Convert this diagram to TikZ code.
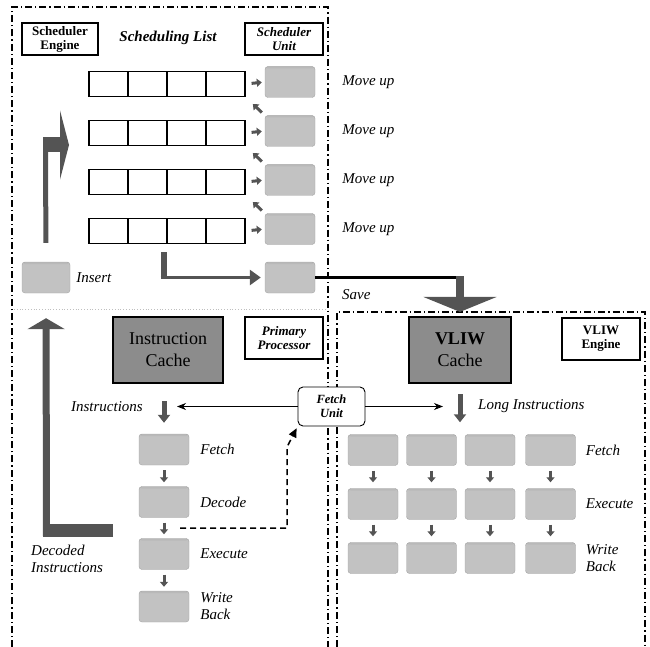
\documentclass[tikz,border=0pt]{standalone}
\usepackage{fontspec}
\setmainfont{Liberation Serif}
\usetikzlibrary{arrows.meta, positioning, calc}

\definecolor{slotgray}{gray}{0.76}
\definecolor{cachegray}{gray}{0.55}
\definecolor{arrowgray}{gray}{0.33}

\tikzstyle{region} = [
    line width=1.1pt,
    dash pattern=on 7pt off 3pt on 1.2pt off 3pt
]
\tikzstyle{tag} = [
    rectangle,
    draw=black,
    line width=1.3pt,
    align=center,
    inner sep=1pt,
    font=\fontsize{13}{14}\selectfont\bfseries
]
\tikzstyle{cell} = [
    rectangle,
    draw=black,
    line width=1.2pt,
    minimum width=39pt,
    minimum height=25pt,
    inner sep=0pt
]
\tikzstyle{slot} = [
    rectangle,
    rounded corners=3pt,
    fill=slotgray,
    draw=slotgray!85!black,
    minimum width=50pt,
    minimum height=31pt,
    inner sep=0pt,
    path picture={\fill [gray!55] (path picture bounding box.north west) rectangle ([yshift=-2pt]path picture bounding box.north east);}
]
\tikzstyle{cache} = [
    rectangle,
    fill=cachegray,
    draw=black,
    line width=2.2pt,
    minimum height=66pt,
    align=center,
    font=\fontsize{18}{22}\selectfont
]
\tikzstyle{fetchbox} = [
    rectangle,
    rounded corners=5pt,
    draw=black,
    line width=0.9pt,
    fill=white,
    minimum width=67pt,
    minimum height=39pt,
    inner sep=1pt,
    align=center,
    font=\fontsize{12.5}{14}\selectfont\bfseries\itshape
]
\tikzstyle{lbl} = [
    align=left,
    inner sep=0pt,
    font=\fontsize{15}{17}\selectfont\itshape
]
\tikzstyle{tinyarrow} = [line width=3pt, draw=arrowgray, -{Triangle[length=5pt,width=8pt]}]
\tikzstyle{midarrow} = [line width=5pt, draw=arrowgray, -{Triangle[length=8pt,width=12pt]}]
\tikzstyle{thinarrow} = [line width=0.8pt, -{Stealth[length=9pt,width=7pt]}]
\tikzstyle{dasharrow} = [line width=1.5pt, dash pattern=on 6pt off 4pt, -{Triangle[length=9pt,width=8pt]}]
\tikzstyle{shaft} = [draw=arrowgray, line cap=butt]

\begin{document}
\begin{tikzpicture}[x=1pt, y=-1pt]

\useasboundingbox (0,0) rectangle (650,647);

\draw [region] (12,647) -- (12,7) -- (328,7) -- (328,647);
\draw [region] (337,647) -- (337,312) -- (645,312) -- (645,647);
\draw [gray!50, line width=0.8pt, dotted] (14,309) -- (326,309);

\node (schedengine) [tag, minimum width=76pt, minimum height=32pt] at (60,39) {Scheduler\\Engine};

\node (schedlist) [font=\fontsize{15}{17}\selectfont\bfseries\itshape] at (168,38) {Scheduling List};

\node (schedunit) [tag, minimum width=78pt, minimum height=32pt, font=\fontsize{13}{14}\selectfont\bfseries\itshape] at (284,39) {Scheduler\\Unit};

\foreach \r in {1,...,4}
  \foreach \c in {1,...,4}
    \node (row\r-\c) [cell] at ({69.5+39*\c}, {84+49*(\r-1)}) {};

\foreach \r in {1,...,4} {
  \node (slot\r) [slot] at (290, {82+49*(\r-1)}) {};
  \node (move\r) [lbl, right=27pt of slot\r] {Move up};
  \draw [tinyarrow, shorten <=6pt, shorten >=3pt] (row\r-4.east) -- (slot\r.west);
}

\foreach \r/\p in {2/1,3/2,4/3}
  \draw [tinyarrow, shorten <=4pt, shorten >=10pt] (slot\r.north west) -- (row\p-4.south east);

\node (saved) [slot] at (290,277.5) {};

\node (insert) [slot, minimum width=48pt] at (46,277.5) {};

\node (insertlbl) [lbl, right=6pt of insert] {Insert};

\node (savelbl) [lbl, anchor=west] at (342,295) {Save};

\coordinate (engbend) at (45.5,145);
\coordinate (engtip) at (69,145);
\draw [shaft, line width=5pt, shorten <=19pt] (insert.north) -- ([yshift=-7pt]engbend);
\draw [shaft, line width=15pt, -{Triangle[length=9pt,width=69pt]}] ([xshift=-2.5pt]engbend) -- (engtip);

\coordinate (listbend) at ([xshift=-4pt]row4-2.south east |- saved.west);
\draw [shaft, line width=6pt, shorten <=8pt] ([xshift=-4pt]row4-2.south east) -- ([yshift=-1.5pt]listbend);
\draw [shaft, line width=3pt, -{Triangle[length=11pt,width=15pt]}, shorten >=4pt] ([xshift=-3pt]listbend) -- (saved.west);

\node (icache) [cache, minimum width=110pt] at (168,350) {Instruction\\Cache};

\node (primary) [tag, minimum width=78pt, minimum height=42pt, font=\fontsize{13}{14}\selectfont\bfseries\itshape] at (284,338) {Primary\\Processor};

\node (vcache) [cache, minimum width=102pt] at (460,350) {\textbf{VLIW}\\Cache};

\node (vengine) [tag, minimum width=78pt, minimum height=42pt] at (601,339) {VLIW\\Engine};

\draw [black, line width=2.2pt] (saved.east) -- ([xshift=4pt]saved.east -| vcache.north);
\draw [shaft, line width=8pt, -{Triangle[length=15pt,width=73pt]}, shorten >=4pt] ([yshift=1.1pt]saved.east -| vcache.north) -- (vcache.north);

\node (fetchL) [slot] at (164,449.5) {};
\node (decL) [slot] at (164,502) {};
\node (exeL) [slot] at (164,554) {};
\node (wbL) [slot] at (164,606.5) {};

\node (fetchLlbl) [lbl, right=11pt of fetchL] {Fetch};
\node (decLlbl) [lbl, right=11pt of decL] {Decode};
\node (exeLlbl) [lbl, right=11pt of exeL] {Execute};
\node (wbLlbl) [lbl, right=11pt of wbL] {Write\\Back};

\draw [tinyarrow, shorten <=5pt, shorten >=4pt] (fetchL.south) -- (decL.north);
\draw [tinyarrow, shorten <=5pt, shorten >=4pt] (decL.south) -- (exeL.north);
\draw [tinyarrow, shorten <=5pt, shorten >=4pt] (exeL.south) -- (wbL.north);

\coordinate (instr) at (164,406.5);
\node (instrlbl) [lbl, left=21pt of instr] {Instructions};
\draw [midarrow, shorten <=17pt, shorten >=11pt] (icache.south -| fetchL.north) -- (fetchL.north);

\foreach \r/\y in {1/450,2/504,3/558}
  \foreach \c/\x in {1/373,2/431.5,3/490,4/550.5}
    \node (v\r-\c) [slot] at (\x,\y) {};

\foreach \c in {1,...,4} {
  \draw [tinyarrow, shorten <=5pt, shorten >=6pt] (v1-\c.south) -- (v2-\c.north);
  \draw [tinyarrow, shorten <=5pt, shorten >=6pt] (v2-\c.south) -- (v3-\c.north);
}

\node (vfetchlbl) [lbl, right=10pt of v1-4] {Fetch};
\node (vexelbl) [lbl, right=10pt of v2-4] {Execute};
\node (vwblbl) [lbl, right=10pt of v3-4] {Write\\Back};

\coordinate (linstr) at (460,406.5);
\node (linstrlbl) [lbl, right=18pt of linstr] {Long Instructions};
\draw [midarrow, shorten <=10pt, shorten >=12pt] (vcache.south) -- (vcache.south |- v1-1.north);

\node (fetchunit) [fetchbox] at (331.5,406.5) {Fetch\\Unit};

\draw [thinarrow, shorten >=13pt] (fetchunit.west) -- (instr);
\draw [thinarrow, shorten >=17pt] (fetchunit.east) -- (linstr);

\coordinate (dstart) at (180,528);
\coordinate (dbend) at (287,447);
\draw [dasharrow, shorten >=2pt] (dstart) -| (dbend) -- (fetchunit.south west);

\coordinate (decstart) at (113,530);
\coordinate (decbend) at (46.5,530);
\draw [shaft, line width=13pt] (decstart) -- ([xshift=-3.5pt]decbend);
\draw [shaft, line width=7pt, -{Triangle[length=11pt,width=37pt]}, shorten >=25pt] ([yshift=-6.5pt]decbend) -- (insert.south);

\node (declbl) [lbl, anchor=west] at (31,559) {Decoded\\Instructions};

\end{tikzpicture}
\end{document}
